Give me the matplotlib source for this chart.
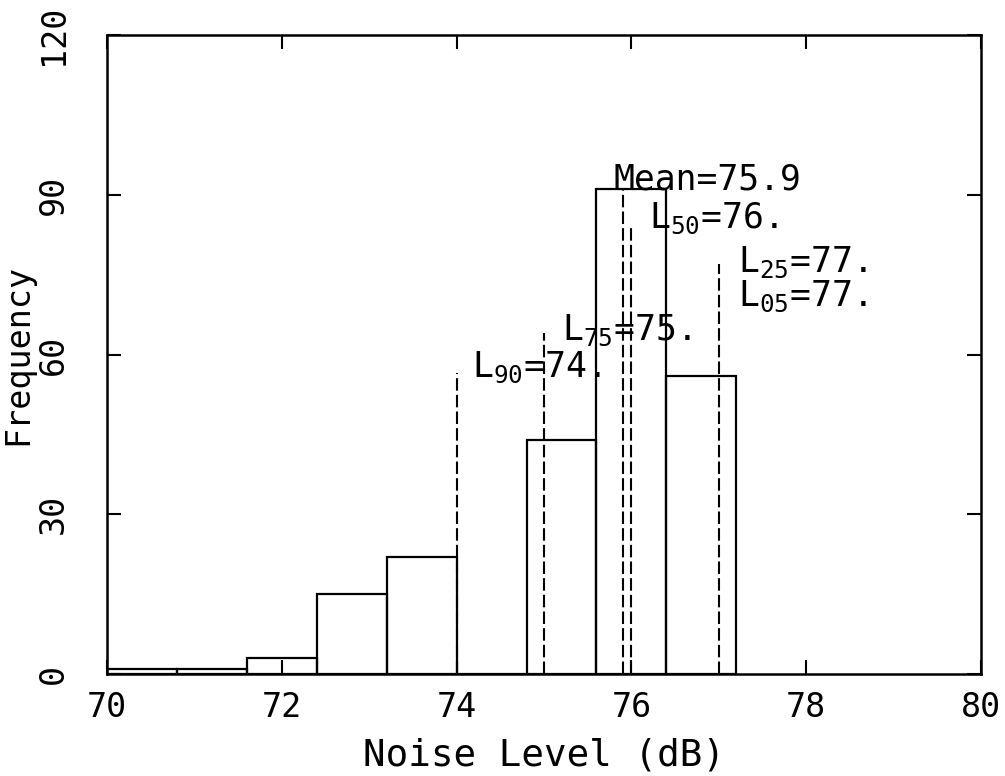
import numpy as np
import matplotlib.pyplot as plt

# histogram bins (left edges) and counts
bin_left = [70.0, 70.8, 71.6, 72.4, 73.2, 74.0, 74.8, 75.6, 76.4]
bin_width = 0.8
counts = [1, 1, 3, 15, 22, 0, 44, 91, 56]

# statistic markers: position, line top, label text, label position
stat_x = [74.0, 75.0, 75.9, 76.0, 77.0]
stat_top = [56.5, 64, 91, 84, 77]
label_text = [r"L$_{90}$=74.", r"L$_{75}$=75.", "Mean=75.9", r"L$_{50}$=76.",
              r"L$_{25}$=77.", r"L$_{05}$=77."]
label_x = [74.18, 75.2, 75.8, 76.2, 77.22, 77.22]
label_y = [57.5, 64.5, 92.8, 85.6, 77.4, 71.0]

x_ticks = [70, 72, 74, 76, 78, 80]
y_ticks = [0, 30, 60, 90, 120]

plt.rcParams['font.family'] = 'DejaVu Sans Mono'
plt.rcParams['mathtext.fontset'] = 'custom'
plt.rcParams['mathtext.rm'] = 'DejaVu Sans Mono'
plt.rcParams['mathtext.it'] = 'DejaVu Sans Mono'

fig = plt.figure(figsize=(10.05, 7.76), dpi=100)
ax = fig.add_axes([0.1065, 0.1314, 0.8697, 0.8235])

ax.bar(bin_left, counts, width=bin_width, align='edge', fill=False,
       edgecolor='black', linewidth=1.6)

for xv, top in zip(stat_x, stat_top):
    ax.plot([xv, xv], [0, top], color='black', linewidth=1.5,
            linestyle=(0, (6, 2)))

for t, xv, yv in zip(label_text, label_x, label_y):
    ax.text(xv, yv, t, fontsize=25, ha='left', va='center')

ax.set_xlim(70, 80)
ax.set_ylim(0, 120)
ax.set_xticks(x_ticks)
ax.set_yticks(y_ticks)
ax.tick_params(direction='in', length=10, width=1.5, top=True, right=True,
               labelsize=24)
ax.tick_params(axis='x', pad=12)
ax.tick_params(axis='y', pad=27)
for lab in ax.get_yticklabels():
    lab.set_rotation(90)
    lab.set_va('center')
for s in ax.spines.values():
    s.set_linewidth(1.8)

ax.set_xlabel('Noise Level (dB)', fontsize=27)
ax.xaxis.set_label_coords(0.5, -0.0986)
ax.set_ylabel('Frequency', fontsize=24)
ax.yaxis.set_label_coords(-0.083, 0.5)

fig.savefig('out.png', dpi=100)
